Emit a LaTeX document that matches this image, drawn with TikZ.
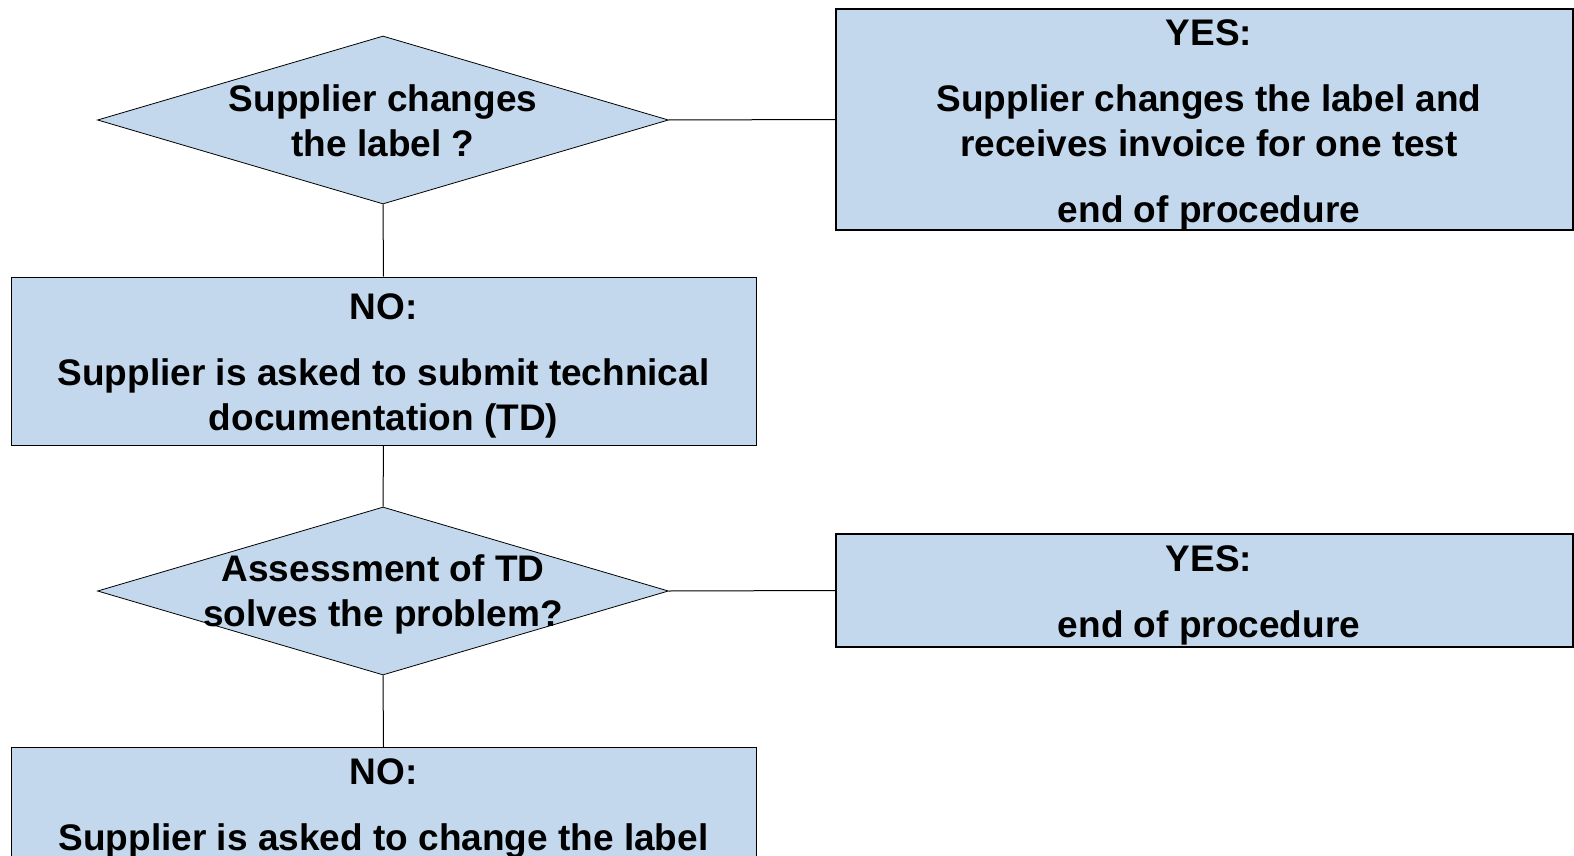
\documentclass[tikz,border=0pt]{standalone}
\usepackage{fontspec}
\setmainfont{Liberation Sans}
\usetikzlibrary{shapes.geometric}
\definecolor{boxblue}{RGB}{195,216,236}
\begin{document}
\begin{tikzpicture}[x=1pt,y=-1pt,
  flowbox/.style={rectangle, draw=black, fill=boxblue, line width=1pt, inner sep=0pt},
  endbox/.style={rectangle, draw=black, fill=boxblue, line width=2pt, inner sep=0pt},
  decision/.style={diamond, draw=black, fill=boxblue, line width=0.8pt,
    minimum width=571pt, minimum height=168pt, inner sep=0pt},
  txt/.style={font=\fontsize{37}{45}\selectfont\bfseries, align=center, inner sep=0pt},
  link/.style={draw=black, line width=1pt}]
\useasboundingbox (0,0) rectangle (1574,856);
\clip (0,0) rectangle (1574,856);

% decisions
\node[decision] (d1) at (383,120) {};
\node[txt] (d1text) at (383,121) {Supplier changes\\the label ?};
\node[decision] (d2) at (383,591) {};
\node[txt] (d2text) at (383,594) {Assessment of TD\\solves the problem?};

% outcome boxes
\node[endbox, minimum width=737pt, minimum height=221pt] (yes1) at (1204.5,119.5) {};
\node[txt] (yes1text) at (1209,125)
  {YES:\\[21pt]Supplier changes the label and\\receives invoice for one test\\[21pt]end of procedure};
\node[flowbox, minimum width=745pt, minimum height=168pt] (no1) at (383.5,361) {};
\node[txt] (no1text) at (383.5,366)
  {NO:\\[21pt]Supplier is asked to submit technical\\documentation (TD)};
\node[endbox, minimum width=737pt, minimum height=113pt] (yes2) at (1204.5,590.5) {};
\node[txt] (yes2text) at (1209,595.5) {YES:\\[21pt]end of procedure};
\node[flowbox, minimum width=745pt, minimum height=200pt, anchor=north] (no2) at (383.5,747) {};
\node[txt] (no2text) at (383.5,808) {NO:\\[21pt]Supplier is asked to change the label};

% connectors
\draw[link] (d1.east) -- (yes1.west);
\draw[link] (d1.south) -- (no1.north);
\draw[link] (no1.south) -- (d2.north);
\draw[link] (d2.east) -- (yes2.west);
\draw[link] (d2.south) -- (no2.north);
\end{tikzpicture}
\end{document}
